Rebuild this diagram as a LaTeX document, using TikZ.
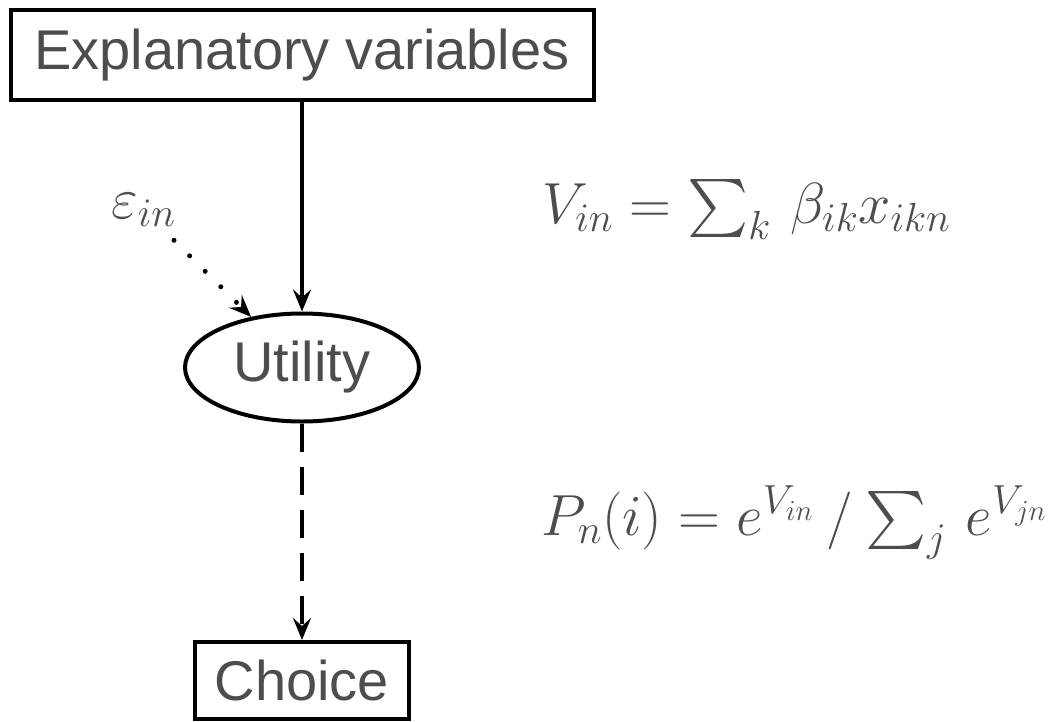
\documentclass[tikz,border=0pt]{standalone}
\usepackage{fix-cm}
\usepackage{amsmath}
\usepackage{fontspec}
\DeclareFontFamily{OMX}{cmex}{}
\DeclareFontShape{OMX}{cmex}{m}{n}{<-> cmex10}{}
\newfontfamily\lsans{Liberation Sans}
\usetikzlibrary{arrows.meta,shapes.geometric}
\definecolor{txt}{HTML}{4D4D4D}
\tikzset{
  sansbox/.style={draw=black, line width=4pt, rectangle, inner sep=0pt, text=txt,
    font=\lsans\fontsize{56}{67}\selectfont},
  ellbox/.style={draw=black, line width=4pt, ellipse, inner sep=0pt, text=txt,
    font=\lsans\fontsize{56}{67}\selectfont, minimum width=234pt, minimum height=108pt},
  mathlbl/.style={inner sep=0pt, text=txt, font=\fontsize{58}{70}\selectfont},
  tip/.style={-{Stealth[length=22pt,width=18pt,inset=8pt]}},
  solidarrow/.style={tip, line width=4pt},
  dasharrow/.style={tip, line width=4pt, dash pattern=on 28pt off 15pt},
  dotarrow/.style={tip, line width=5pt, line cap=round, dash pattern=on 0pt off 22pt, shorten <=19pt}
}
\begin{document}
\begin{tikzpicture}[x=1pt,y=-1pt]
\useasboundingbox (0,0) rectangle (1061,721);
\node[sansbox, minimum width=583pt, minimum height=90.5pt] (expl) at (302,55) {Explanatory variables};
\node[ellbox] (util) at (302,367.5) {Utility};
\node[sansbox, minimum width=214pt, minimum height=77pt] (choice) at (302,680.5) {Choice};
\node[mathlbl, anchor=base west] (eps) at (111,218) {$\varepsilon_{in}$};
\node[mathlbl, anchor=base west] (vform) at (542,223) {$V_{in} = \sum_k \, \beta_{ik} x_{ikn}$};
\node[mathlbl, anchor=base west] (pform) at (541,535) {$P_n(i) = e^{V_{in}} \mathbin{/} \sum_j \, e^{V_{jn}}$};
\draw[solidarrow] (expl) -- (util);
\draw[dasharrow] (util) -- (choice);
\draw[dotarrow] (eps) -- (util);
\end{tikzpicture}
\end{document}
